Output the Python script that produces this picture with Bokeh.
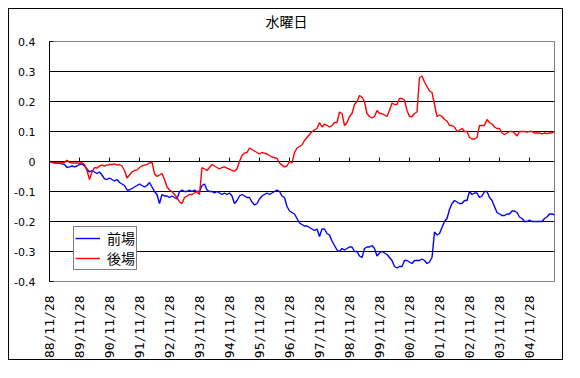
import math
from bokeh.plotting import figure
from bokeh.models import Range1d, FixedTicker, Legend, LegendItem, Title
from bokeh.embed import file_html
from bokeh.resources import INLINE

title_text = "水曜日"

tick_labels = ["88/11/28", "89/11/28", "90/11/28", "91/11/28", "92/11/28", "93/11/28",
               "94/11/28", "95/11/28", "96/11/28", "97/11/28", "98/11/28", "99/11/28",
               "00/11/28", "01/11/28", "02/11/28", "03/11/28", "04/11/28"]

y_ticks = [-0.4, -0.3, -0.2, -0.1, 0.0, 0.1, 0.2, 0.3, 0.4]
y_labels = ["-0.4", "-0.3", "-0.2", "-0.1", "0", "0.1", "0.2", "0.3", "0.4"]

# 前場 (blue), monthly readings from 88/11 onward
zenba = [
    0.0, -0.003, -0.005, -0.005, -0.006, -0.008, -0.01, -0.02, -0.018, -0.015, -0.018, -0.015,
    -0.01, -0.008, -0.015, -0.025, -0.035, -0.03, -0.035, -0.04, -0.035, -0.045, -0.058, -0.06,
    -0.055, -0.06, -0.065, -0.06, -0.07, -0.075, -0.08, -0.095, -0.095, -0.09, -0.085, -0.08,
    -0.075, -0.08, -0.085, -0.08, -0.07, -0.085, -0.1, -0.11, -0.14, -0.11, -0.115, -0.115,
    -0.12, -0.115, -0.12, -0.125, -0.1, -0.095, -0.1, -0.1, -0.095, -0.1, -0.095, -0.1,
    -0.1, -0.08, -0.075, -0.095, -0.1, -0.1, -0.105, -0.1, -0.105, -0.11, -0.105, -0.11,
    -0.105, -0.115, -0.14, -0.13, -0.115, -0.11, -0.115, -0.12, -0.12, -0.135, -0.145, -0.14,
    -0.125, -0.115, -0.11, -0.105, -0.11, -0.105, -0.1, -0.095, -0.1, -0.115, -0.12, -0.15,
    -0.165, -0.17, -0.175, -0.19, -0.205, -0.21, -0.215, -0.215, -0.22, -0.225, -0.23, -0.225,
    -0.25, -0.225, -0.225, -0.24, -0.245, -0.265, -0.28, -0.295, -0.3, -0.29, -0.295, -0.29,
    -0.285, -0.285, -0.3, -0.3, -0.315, -0.32, -0.29, -0.285, -0.285, -0.28, -0.29, -0.315,
    -0.305, -0.3, -0.305, -0.31, -0.32, -0.33, -0.35, -0.355, -0.35, -0.35, -0.33, -0.33,
    -0.335, -0.34, -0.33, -0.33, -0.33, -0.325, -0.33, -0.34, -0.335, -0.32, -0.235, -0.245,
    -0.24, -0.22, -0.2, -0.19, -0.16, -0.14, -0.13, -0.135, -0.14, -0.14, -0.13, -0.13,
    -0.1, -0.11, -0.105, -0.105, -0.12, -0.115, -0.1, -0.1, -0.12, -0.13, -0.15, -0.17,
    -0.175, -0.18, -0.18, -0.175, -0.175, -0.165, -0.165, -0.17, -0.185, -0.19, -0.2, -0.2,
    -0.195, -0.2, -0.2, -0.2, -0.2, -0.2, -0.19, -0.185, -0.175, -0.175, -0.178,
]

# 後場 (red)
goba = [
    0.0, -0.002, -0.004, -0.005, -0.005, -0.004, -0.003, 0.004, -0.003, -0.005, -0.005, -0.005,
    -0.005, -0.004, -0.01, -0.03, -0.06, -0.035, -0.02, -0.022, -0.015, -0.012, -0.015, -0.012,
    -0.01, -0.01, -0.008, -0.012, -0.01, -0.015, -0.03, -0.055, -0.045, -0.035, -0.03, -0.028,
    -0.02, -0.015, -0.012, -0.01, -0.005, -0.002, -0.04, -0.05, -0.045, -0.04, -0.06, -0.085,
    -0.095, -0.1, -0.11, -0.12, -0.135, -0.14, -0.12, -0.115, -0.11, -0.11, -0.105, -0.1,
    -0.11, -0.02, -0.025, -0.03, -0.02, -0.01, -0.015, -0.02, -0.025, -0.02, -0.018, -0.022,
    -0.025, -0.03, -0.032, -0.025, 0.0, 0.02, 0.028, 0.03, 0.045, 0.04, 0.035, 0.03,
    0.025, 0.03, 0.028, 0.025, 0.02, 0.015, 0.013, 0.01, -0.005, -0.012, -0.018, -0.015,
    0.0, -0.005, 0.03, 0.045, 0.05, 0.055, 0.07, 0.08, 0.09, 0.1, 0.105, 0.11,
    0.13, 0.115, 0.125, 0.12, 0.115, 0.12, 0.13, 0.13, 0.165, 0.16, 0.12, 0.13,
    0.15, 0.16, 0.19, 0.2, 0.22, 0.215, 0.2, 0.16, 0.15, 0.145, 0.15, 0.17,
    0.16, 0.16, 0.155, 0.15, 0.17, 0.195, 0.19, 0.19, 0.21, 0.21, 0.205, 0.17,
    0.15, 0.15, 0.16, 0.165, 0.28, 0.285, 0.265, 0.25, 0.235, 0.23, 0.19, 0.15,
    0.155, 0.15, 0.14, 0.135, 0.12, 0.12, 0.115, 0.1, 0.105, 0.11, 0.1, 0.1,
    0.08, 0.075, 0.075, 0.08, 0.12, 0.12, 0.12, 0.14, 0.13, 0.125, 0.115, 0.11,
    0.11, 0.095, 0.09, 0.095, 0.1, 0.1, 0.095, 0.085, 0.1, 0.1, 0.1, 0.098,
    0.1, 0.1, 0.095, 0.095, 0.095, 0.092, 0.095, 0.093, 0.095, 0.095, 0.1,
]

months = list(range(len(goba)))
tick_months = [12 * k for k in range(len(tick_labels))]

W, H = 555, 352
p = figure(width=W, height=H, output_backend="svg", toolbar_location=None,
           x_range=Range1d(0, len(goba) - 1), y_range=Range1d(-0.4, 0.4),
           min_border_left=40, min_border_right=10, min_border_top=32,
           min_border_bottom=78, title=title_text)
p.styles = {"border": "1px solid black", "margin": "8px"}
p.background_fill_color = "white"
p.border_fill_color = "white"
p.outline_line_color = "#808080"
p.outline_line_width = 1

p.title.text_font = "Noto Sans CJK JP"
p.title.text_font_size = "14px"
p.title.text_font_style = "normal"
p.title.text_color = "black"
p.title.align = "left"
p.title.offset = 216
p.title.vertical_align = "top"
p.title.standoff = 0

# blank spacer between the title and the plot area
p.add_layout(Title(text=" ", text_font_size="1px", standoff=6), "above")

# x axis
p.xaxis.ticker = FixedTicker(ticks=tick_months)
p.xaxis.major_label_overrides = {m: l for m, l in zip(tick_months, tick_labels)}
p.xaxis.major_label_orientation = math.pi / 2
p.xaxis.axis_line_color = None
p.xaxis.major_tick_line_color = None
p.xaxis.minor_tick_line_color = None
p.xaxis.major_tick_in = 0
p.xaxis.major_tick_out = 0
p.xaxis.major_label_standoff = 14
p.xaxis.major_label_text_font = "DejaVu Sans Mono"
p.xaxis.major_label_text_font_size = "13px"
p.xaxis.major_label_text_color = "black"
p.xgrid.visible = False

# y axis
p.yaxis.ticker = FixedTicker(ticks=y_ticks)
p.yaxis.major_label_overrides = {t: l for t, l in zip(y_ticks, y_labels)}
p.yaxis.axis_line_color = "black"
p.yaxis.major_tick_line_color = "black"
p.yaxis.minor_tick_line_color = None
p.yaxis.major_tick_in = 4
p.yaxis.major_tick_out = 0
p.yaxis.major_label_standoff = 14
p.yaxis.major_label_text_font = "DejaVu Sans"
p.yaxis.major_label_text_font_size = "11px"
p.yaxis.major_label_text_color = "black"
p.ygrid.ticker = FixedTicker(ticks=y_ticks[1:-1])
p.ygrid.grid_line_color = "black"
p.ygrid.grid_line_alpha = 1.0
p.ygrid.grid_line_width = 1

# tick marks on the zero line
p.segment(x0=tick_months[1:], y0=[0] * (len(tick_months) - 1),
          x1=tick_months[1:], y1=[0.013] * (len(tick_months) - 1),
          line_color="black", line_width=1)

r_blue = p.line(months, zenba, line_color="#0000FF", line_width=1.4)
r_red = p.line(months, goba, line_color="#FF0000", line_width=1.4)

legend = Legend(items=[LegendItem(label="前場", renderers=[r_blue]),
                       LegendItem(label="後場", renderers=[r_red])],
                location=(24, 11))
legend.border_line_color = "black"
legend.border_line_width = 1
legend.background_fill_color = "white"
legend.background_fill_alpha = 1.0
legend.margin = 0
legend.padding = 1
legend.spacing = 0
legend.glyph_width = 25
legend.glyph_height = 16
legend.label_height = 16
legend.label_standoff = 7
legend.label_text_font = "Noto Sans CJK JP"
legend.label_text_font_size = "14px"
legend.label_text_color = "black"
p.add_layout(legend)

open("out.html", "w").write(file_html(p, INLINE))
